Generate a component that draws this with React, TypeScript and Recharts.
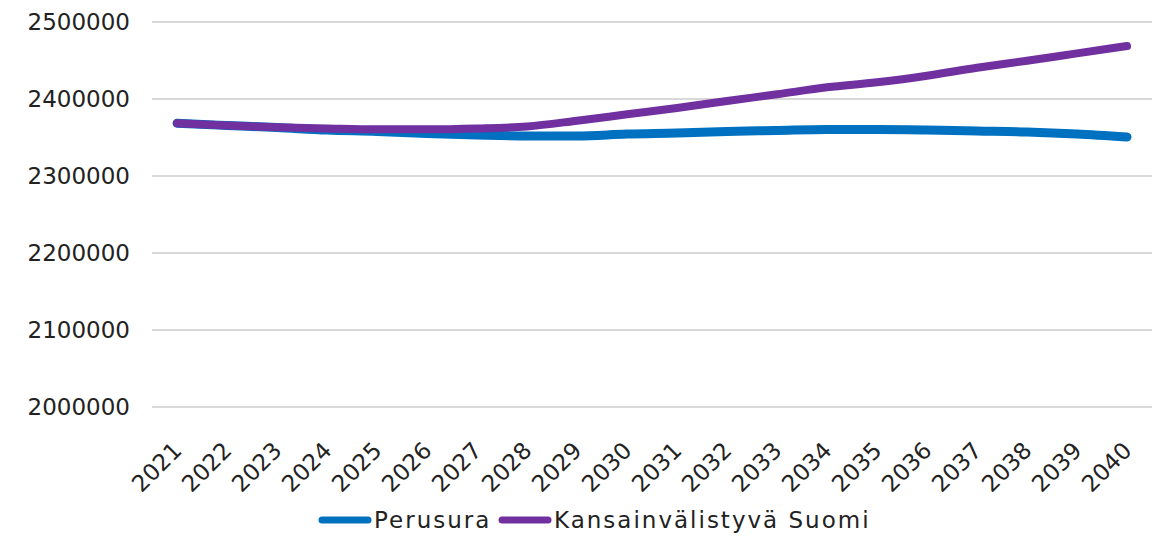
import { LineChart, Line, XAxis, YAxis, CartesianGrid, Legend } from 'recharts';

const years = [
  '2021', '2022', '2023', '2024', '2025', '2026', '2027', '2028', '2029', '2030',
  '2031', '2032', '2033', '2034', '2035', '2036', '2037', '2038', '2039', '2040'
];

const perusura = [
  2368400, 2365600, 2362900, 2359700, 2357800, 2355200, 2353200, 2351900, 2351900, 2354500,
  2355800, 2357800, 2359100, 2360400, 2360400, 2359700, 2358400, 2357100, 2354500, 2350600
];

const kansainvalistyva = [
  2368400, 2365600, 2363200, 2361700, 2360600, 2360600, 2361700, 2364300, 2371800, 2380100,
  2388300, 2397400, 2406100, 2415200, 2421700, 2430300, 2440600, 2449700, 2459300, 2468800
];

const yTicks = [2000000, 2100000, 2200000, 2300000, 2400000, 2500000];

const seriesNames = ['Perusura', 'Kansainvälistyvä Suomi'];
const seriesColors = ['#0070C0', '#7030A0'];

const data = years.map((year, i) => ({
  year,
  perusura: perusura[i],
  kansainvalistyva: kansainvalistyva[i]
}));

const FONT = '"DejaVu Sans", sans-serif';

function YearTick(props: any) {
  const { x, y, payload } = props;
  return (
    <text
      x={x + 6}
      y={y + 37}
      transform={`rotate(-45 ${x + 6} ${y + 37})`}
      textAnchor="end"
      fill="#222"
      fontSize={23}
      fontFamily={FONT}
    >
      {payload.value}
    </text>
  );
}

// legend built from our own list so the order stays as in the original
const legendLeft = [318, 498];

function LegendBox() {
  return (
    <div style={{ position: 'relative', width: 1153, height: 30, fontFamily: FONT, fontSize: 23, color: '#222', whiteSpace: 'nowrap' }}>
      {seriesNames.map((name, i) => (
        <div key={name} style={{ position: 'absolute', left: legendLeft[i], top: 0, display: 'flex', alignItems: 'center', height: 30 }}>
          <svg width={54} height={10} style={{ marginRight: 2 }}>
            <line x1={4} y1={5} x2={50} y2={5} stroke={seriesColors[i]} strokeWidth={7} strokeLinecap="round" />
          </svg>
          <span style={{ letterSpacing: 2 }}>{name}</span>
        </div>
      ))}
    </div>
  );
}

export default function App() {
  return (
    <div style={{ position: 'absolute', left: 0, top: 0, background: '#fff' }}>
      <LineChart width={1153} height={537} data={data} margin={{ top: 22, right: 1, bottom: 0, left: 0 }}>
        <CartesianGrid vertical={false} stroke="#d9d9d9" strokeWidth={2} />
        <XAxis
          dataKey="year"
          axisLine={false}
          tickLine={false}
          interval={0}
          padding={{ left: 25, right: 25 }}
          height={80}
          tick={<YearTick />}
        />
        <YAxis
          domain={[2000000, 2500000]}
          ticks={yTicks}
          axisLine={false}
          tickLine={false}
          tickSize={0}
          tickMargin={22}
          width={152}
          tick={{ fill: '#222', fontSize: 23, fontFamily: FONT }}
        />
        <Legend
          verticalAlign="bottom"
          height={50}
          content={<LegendBox />}
          wrapperStyle={{ left: 0, top: 505, width: 1153 }}
        />
        <Line
          type="monotone"
          dataKey="perusura"
          name={seriesNames[0]}
          stroke={seriesColors[0]}
          strokeWidth={9}
          strokeLinecap="round"
          dot={false}
          isAnimationActive={false}
        />
        <Line
          type="monotone"
          dataKey="kansainvalistyva"
          name={seriesNames[1]}
          stroke={seriesColors[1]}
          strokeWidth={8}
          strokeLinecap="round"
          dot={false}
          isAnimationActive={false}
        />
      </LineChart>
    </div>
  );
}
